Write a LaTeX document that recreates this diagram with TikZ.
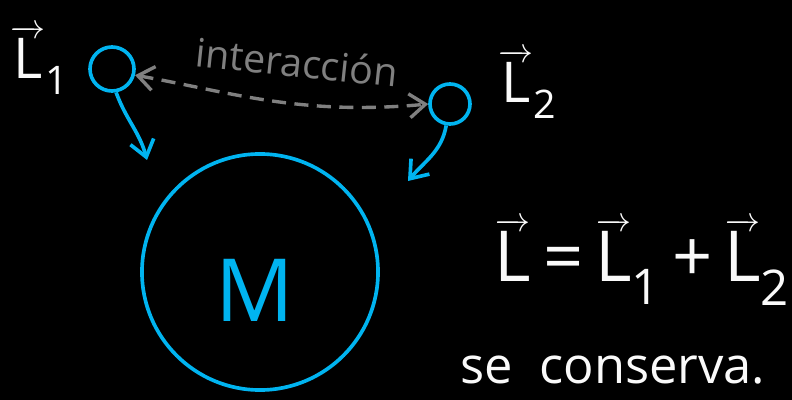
\documentclass[tikz,border=0pt]{standalone}
\usepackage{amsmath}
\usepackage{fontspec}
\setmainfont{Open Sans}
\usetikzlibrary{arrows.meta,positioning}
\definecolor{sky}{RGB}{0,180,240}
\definecolor{ash}{RGB}{128,128,128}
\definecolor{chalk}{RGB}{250,250,250}
\newcommand{\vecL}[1]{$\overrightarrow{\text{L}}_{\text{#1}}$}
\tikzset{
  >={Straight Barb[length=4mm,width=6mm]},
  body/.style={circle,draw=sky,line width=2.6pt,inner sep=0pt,minimum size=#1},
  push/.style={->,line width=2.6pt,draw=sky},
  link/.style={<->,line width=2.4pt,draw=ash,dash pattern=on 10pt off 6pt},
  note/.style={text=chalk,font=\fontsize{#1}{#1}\selectfont,inner sep=0pt},
  note/.default=40,
}
\begin{document}
\begin{tikzpicture}[x=0.025cm,y=-0.025cm]
  \fill[black] (0,0) rectangle (792,400);
  \useasboundingbox (0,0) rectangle (792,400);
  % bodies
  \node[body=1.1cm] (m1) at (112,69) {};
  \node[body=1.0cm] (m2) at (450,104) {};
  \node[body=5.9cm] (big) at (260,272) {};
  \node[text=sky,font=\fontsize{62}{62}\selectfont] (mass) at (255,290) {M};
  % forces on the central mass
  \coordinate (f1) at (147,160);
  \coordinate (f2) at (408,181);
  \draw[push] (m1.-80) to[out=-70,in=105] (f1);
  \draw[push] (m2.-100) to[out=-100,in=50] (f2);
  % interaction
  \draw[link] (m1.-15) .. controls (230,92) and (300,116) .. (m2.west);
  \node[note=28,text=ash,rotate=-6] (inter) at (297,62) {interacción};
  % labels
  \node[note] (l1) at (40,60) {\vecL{1}};
  \node[note] (l2) at (528,84) {\vecL{2}};
  \node[note=50] (sum) at (642,262) {\vecL{}\,=\,\vecL{1}\,+\,\vecL{2}};
  \node[note=36] (keep) at (613,370) {se\ \ conserva.};
\end{tikzpicture}
\end{document}
